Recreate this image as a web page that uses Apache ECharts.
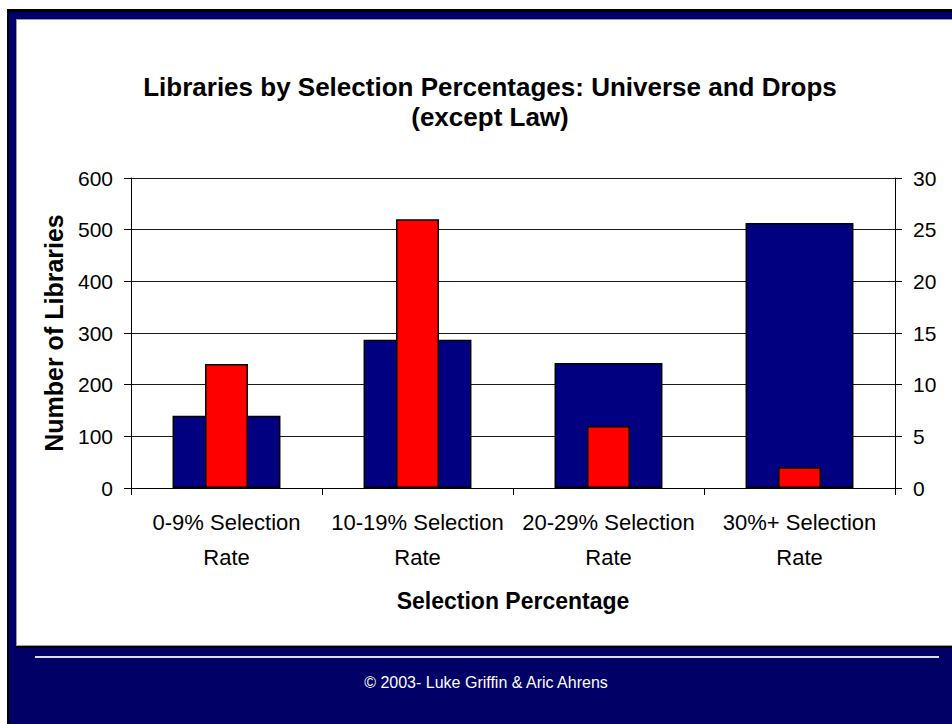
<!DOCTYPE html>
<html>
<head>
<meta charset="utf-8">
<script src="https://cdn.jsdelivr.net/npm/echarts@6/dist/echarts.min.js"></script>
<style>
html,body{margin:0;padding:0;background:#fff;}
#chart{width:952px;height:724px;}
</style>
</head>
<body>
<div id="chart"></div>
<script>
var categories = ['0-9% Selection\nRate', '10-19% Selection\nRate', '20-29% Selection\nRate', '30%+ Selection\nRate'];
var universeValues = [140, 287, 242, 513];
var dropValues = [12, 26, 6, 2];
var leftTicks = [0, 100, 200, 300, 400, 500, 600];
var rightTicks = [0, 5, 10, 15, 20, 25, 30];
var titleText = 'Libraries by Selection Percentages: Universe and Drops\n(except Law)';
var footerText = '\u00A9 2003- Luke Griffin & Aric Ahrens';

var FONT = '"Liberation Sans", Arial, sans-serif';
var chart = echarts.init(document.getElementById('chart'), null, {renderer: 'svg'});

var option = {
  animation: false,
  backgroundColor: '#ffffff',
  textStyle: {fontFamily: FONT},
  title: {
    text: titleText,
    left: 485, textAlign: 'center',
    top: 67,
    textStyle: {fontFamily: FONT, fontSize: 26, fontWeight: 'bold', color: '#000', lineHeight: 30}
  },
  graphic: [
    {type: 'rect', z: -100, shape: {x: 7, y: 9, width: 945, height: 715}, style: {fill: '#000000'}},
    {type: 'rect', z: -99, shape: {x: 9, y: 12, width: 943, height: 712}, style: {fill: '#00006c'}},
    {type: 'rect', z: -98, shape: {x: 16, y: 19, width: 940, height: 629}, style: {fill: '#000000'}},
    {type: 'rect', z: -97, shape: {x: 16, y: 19, width: 940, height: 627}, style: {fill: '#9a9a9a'}},
    {type: 'rect', z: -96, shape: {x: 17, y: 20, width: 940, height: 625}, style: {fill: '#ffffff'}},
    {type: 'rect', z: -95, shape: {x: 9, y: 648, width: 943, height: 76}, style: {fill: '#000066'}},
    {type: 'line', z: -94, shape: {x1: 35, y1: 657, x2: 939, y2: 657}, style: {stroke: '#dcdcf0', lineWidth: 2}},
    {type: 'text', z: -93, x: 486, y: 682, style: {text: footerText, fill: '#ffffff', font: '16px ' + FONT, textAlign: 'center', textVerticalAlign: 'middle'}}
  ],
  grid: {left: 131, right: 57, top: 178, bottom: 236, containLabel: false},
  xAxis: [
    {
      type: 'category', data: categories, position: 'bottom',
      axisLine: {show: true, lineStyle: {color: '#000', width: 1}},
      axisTick: {show: true, length: 7, lineStyle: {color: '#000'}},
      axisLabel: {fontFamily: FONT, fontSize: 22, color: '#000', margin: 17, lineHeight: 35, interval: 0},
      name: 'Selection Percentage', nameLocation: 'middle', nameGap: 101,
      nameTextStyle: {fontFamily: FONT, fontSize: 23, fontWeight: 'bold', color: '#000'}
    },
    {
      type: 'category', data: categories, show: false
    }
  ],
  yAxis: [
    {
      type: 'value', min: 0, max: 600, interval: 100, position: 'left',
      axisLine: {show: true, lineStyle: {color: '#000', width: 1}},
      axisTick: {show: true, length: 7, lineStyle: {color: '#000'}},
      axisLabel: {fontFamily: FONT, fontSize: 21, color: '#000', margin: 18,
        formatter: function (v) { return leftTicks.indexOf(v) >= 0 ? String(v) : ''; }},
      splitLine: {show: true, lineStyle: {color: '#1a1a1a', width: 1.2}},
      name: 'Number of Libraries', nameLocation: 'middle', nameGap: 65, nameRotate: 90,
      nameTextStyle: {fontFamily: FONT, fontSize: 25, fontWeight: 'bold', color: '#000'}
    },
    {
      type: 'value', min: 0, max: 30, interval: 5, position: 'right',
      axisLine: {show: true, lineStyle: {color: '#000', width: 1}},
      axisTick: {show: true, length: 7, lineStyle: {color: '#000'}},
      axisLabel: {fontFamily: FONT, fontSize: 21, color: '#000', margin: 18,
        formatter: function (v) { return rightTicks.indexOf(v) >= 0 ? String(v) : ''; }},
      splitLine: {show: false}
    }
  ],
  series: [
    {
      name: 'Universe', type: 'bar', xAxisIndex: 0, yAxisIndex: 0,
      data: universeValues, barWidth: '56.5%',
      itemStyle: {color: '#000080', borderColor: '#000', borderWidth: 1.5}
    },
    {
      name: 'Drops', type: 'bar', xAxisIndex: 1, yAxisIndex: 1,
      data: dropValues, barWidth: '22.5%',
      itemStyle: {color: '#ff0000', borderColor: '#000', borderWidth: 1.5}
    }
  ]
};
chart.setOption(option);
</script>
</body>
</html>
